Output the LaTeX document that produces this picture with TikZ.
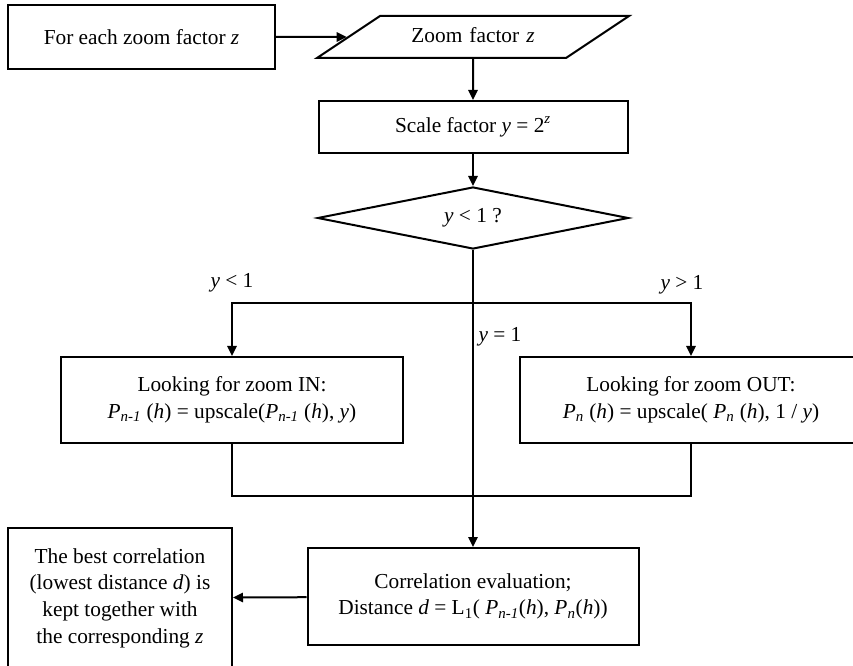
\documentclass[tikz,border=0pt]{standalone}
\usepackage{fontspec}
\setmainfont{Liberation Serif}
\usetikzlibrary{arrows.meta,shapes.geometric}
\begin{document}
\begin{tikzpicture}[x=0.75pt,y=-0.75pt,
  font=\fontsize{16}{20}\selectfont,
  every node/.style={inner sep=0pt, align=center},
  box/.style={draw, rectangle, line width=1.5pt},
  link/.style={line width=1.5pt},
  arrow/.style={link, -{Triangle[length=7.5pt,width=7pt]}},
]
\useasboundingbox (0,0) rectangle (853,666);
\clip (0,0) rectangle (853,666);

% process steps
\node[box, minimum width=200.25pt, minimum height=48pt] (each) at (141.5,37)
  {For each zoom factor \textit{z}};
% input parallelogram: body 139.5pt wide, 31.5pt high, slanted sides at 33.7 degrees
\node[draw, trapezium, trapezium left angle=33.7, trapezium right angle=146.3,
  text width=139.5pt, text height=12pt, text depth=4pt,
  inner xsep=0pt, inner ysep=7.75pt, line width=1.5pt] (zf) at (473,37)
  {Zoom factor \textit{z}};
\node[box, minimum width=231.75pt, minimum height=39pt] (scale) at (473,127)
  {Scale factor \textit{y} = 2\textsuperscript{\textit{z}}};
\node[draw, diamond, aspect=5, line width=1.5pt, minimum width=233.25pt, minimum height=46.5pt]
  (test) at (473,218) {\textit{y} < 1 ?};
\node[box, minimum width=256.5pt, minimum height=64.5pt] (lbox) at (232,400)
  {Looking for zoom IN:\\
   \textit{P}\textsubscript{\textit{n-1}} (\textit{h}) = upscale(\textit{P}\textsubscript{\textit{n-1}} (\textit{h}), \textit{y})};
\node[box, minimum width=256.5pt, minimum height=64.5pt] (rbox) at (691,400)
  {Looking for zoom OUT:\\
   \textit{P}\textsubscript{\textit{n}} (\textit{h}) = upscale( \textit{P}\textsubscript{\textit{n}} (\textit{h}), 1 / \textit{y})};
\node[box, minimum width=248.25pt, minimum height=72.75pt] (corr) at (473,596.5)
  {Correlation evaluation;\\
   Distance \textit{d} = L\textsubscript{1}( \textit{P}\textsubscript{\textit{n-1}}(\textit{h}), \textit{P}\textsubscript{\textit{n}}(\textit{h}))};
\node[box, minimum width=168pt, minimum height=105pt] (best) at (120,598)
  {The best correlation\\
   (lowest distance \textit{d}) is\\
   kept together with\\
   the corresponding \textit{z}};

% branch labels
\node (lt) at (232,283) {\textit{y} < 1};
\node (gt) at (682,285) {\textit{y} > 1};
\node (eq) at (500,337) {\textit{y} = 1};

% branching and merging points
\coordinate (split) at (473,303);
\coordinate (join) at (473,496);

% connectors
\draw[arrow] (each) -- (zf);
\draw[arrow] (zf) -- (scale);
\draw[arrow] (scale) -- (test);
\draw[arrow] (test.south) -- (corr.north);
\draw[arrow] (split) -| (lbox.north);
\draw[arrow] (split) -| (rbox.north);
\draw[link] (lbox.south) |- (join) -| (rbox.south);
\draw[arrow] (corr) -- (best);
\end{tikzpicture}
\end{document}
